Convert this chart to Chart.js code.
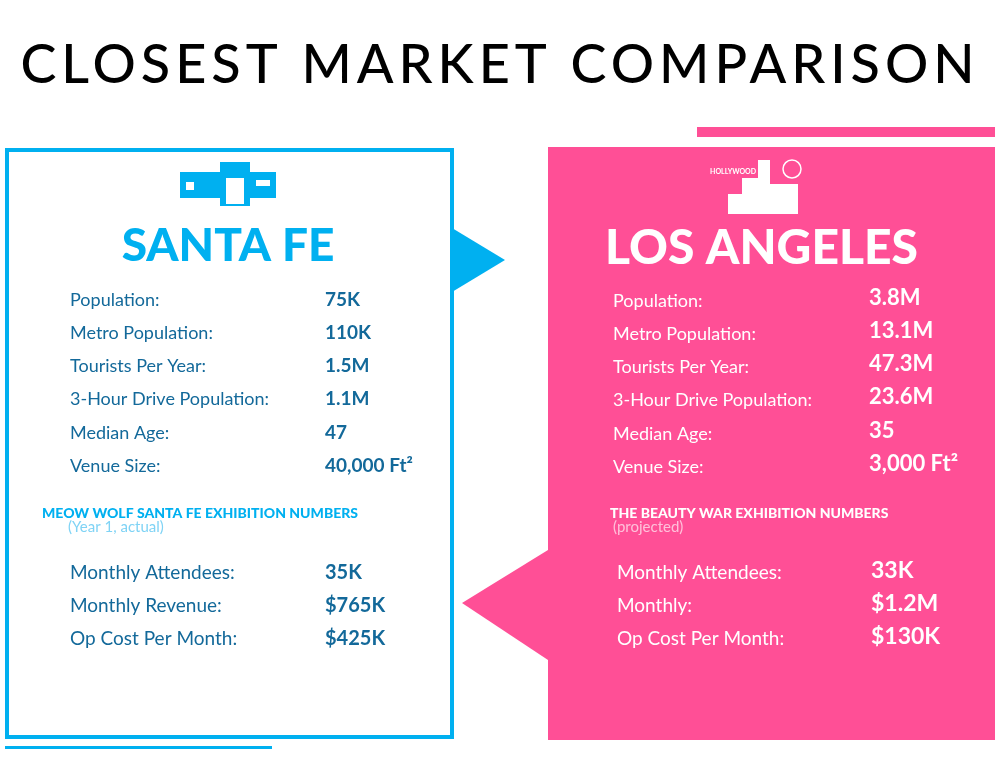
<!DOCTYPE html>
<html><head><meta charset="utf-8">
<script src="https://cdn.jsdelivr.net/npm/chart.js@4"></script>
<style>html,body{margin:0;padding:0;background:#fff;overflow:hidden}#c{display:block}</style>
</head><body>
<div style="width:1000px;height:763px"><canvas id="c"></canvas></div>
<script>
const title = "CLOSEST MARKET COMPARISON";
const sfName = "SANTA FE";
const laName = "LOS ANGELES";
const statLabels = ["Population:", "Metro Population:", "Tourists Per Year:", "3-Hour Drive Population:", "Median Age:", "Venue Size:"];
const sfStats = ["75K", "110K", "1.5M", "1.1M", "47", "40,000 Ft²"];
const laStats = ["3.8M", "13.1M", "47.3M", "23.6M", "35", "3,000 Ft²"];
const sfHeading = "MEOW WOLF SANTA FE EXHIBITION NUMBERS";
const sfSub = "(Year 1, actual)";
const laHeading = "THE BEAUTY WAR EXHIBITION NUMBERS";
const laSub = "(projected)";
const sfExLabels = ["Monthly Attendees:", "Monthly Revenue:", "Op Cost Per Month:"];
const sfExValues = ["35K", "$765K", "$425K"];
const laExLabels = ["Monthly Attendees:", "Monthly:", "Op Cost Per Month:"];
const laExValues = ["33K", "$1.2M", "$130K"];

const BLUE = "#00b0f0", DARK = "#13699a", PINK = "#ff4f96";
const F = "Lato, 'Open Sans', sans-serif";

const infographic = {
  id: "infographic",
  afterDraw(chart) {
    const ctx = chart.ctx;
    ctx.save();
    ctx.textBaseline = "middle";
    // title
    ctx.fillStyle = "#000";
    ctx.font = "500 54px " + F;
    ctx.letterSpacing = "5px";
    ctx.textAlign = "center";
    ctx.fillText(title, 500, 66);
    ctx.letterSpacing = "0px";
    // pink panel & bar
    ctx.fillStyle = PINK;
    ctx.fillRect(697, 127, 298, 10);
    ctx.fillRect(548, 147, 447, 593);
    ctx.beginPath(); ctx.moveTo(548, 550); ctx.lineTo(462, 603); ctx.lineTo(548, 660); ctx.fill();
    // blue panel
    ctx.strokeStyle = BLUE; ctx.lineWidth = 4;
    ctx.strokeRect(7, 150, 445, 587);
    ctx.fillStyle = BLUE;
    ctx.beginPath(); ctx.moveTo(452, 228); ctx.lineTo(505, 260); ctx.lineTo(452, 292); ctx.fill();
    ctx.fillRect(5, 746, 267, 3);
    // simple icons
    ctx.fillStyle = BLUE;
    ctx.fillRect(180, 172, 40, 26); ctx.fillRect(220, 162, 30, 44); ctx.fillRect(250, 172, 26, 26);
    ctx.fillStyle = "#fff";
    ctx.fillRect(226, 178, 18, 26); ctx.fillRect(186, 182, 8, 8); ctx.fillRect(256, 180, 14, 6);
    ctx.fillStyle = "#fff";
    ctx.fillRect(742, 178, 16, 36); ctx.fillRect(758, 160, 12, 54); ctx.fillRect(770, 184, 28, 30);
    ctx.fillRect(728, 194, 14, 20);
    ctx.strokeStyle = "#fff"; ctx.lineWidth = 1.5;
    ctx.beginPath(); ctx.arc(792, 169, 9, 0, Math.PI * 2); ctx.stroke();
    ctx.font = "bold 7px " + F; ctx.textAlign = "left"; ctx.fillText("HOLLYWOOD", 710, 172);
    // names
    ctx.textAlign = "center"; ctx.fillStyle = BLUE;
    ctx.font = "900 46px " + F; ctx.fillText(sfName, 228, 246);
    ctx.textAlign = "left"; ctx.fillStyle = "#fff";
    ctx.font = "900 48px " + F; ctx.fillText(laName, 605, 249);
    // stats
    const rows = [300, 333, 366, 399, 433, 466];
    statLabels.forEach((l, i) => {
      ctx.font = "18px " + F; ctx.fillStyle = DARK; ctx.fillText(l, 70, rows[i]);
      ctx.font = "bold 19px " + F; ctx.fillText(sfStats[i], 325, rows[i]);
      ctx.font = "18px " + F; ctx.fillStyle = "#fff"; ctx.fillText(l, 613, rows[i] + 1);
      ctx.font = "bold 22px " + F; ctx.fillText(laStats[i], 869, rows[i] - 2);
    });
    // headings
    ctx.font = "900 14px " + F; ctx.fillStyle = BLUE; ctx.fillText(sfHeading, 42, 513);
    ctx.font = "15px " + F; ctx.fillStyle = "#7fd3f5"; ctx.fillText(sfSub, 68, 527);
    ctx.font = "900 14px " + F; ctx.fillStyle = "#fff"; ctx.fillText(laHeading, 610, 513);
    ctx.font = "15px " + F; ctx.fillStyle = "#ffc0da"; ctx.fillText(laSub, 613, 527);
    const r2 = [573, 606, 639];
    sfExLabels.forEach((l, i) => {
      ctx.font = "19px " + F; ctx.fillStyle = DARK; ctx.fillText(l, 70, r2[i]);
      ctx.font = "bold 20px " + F; ctx.fillText(sfExValues[i], 325, r2[i]);
    });
    laExLabels.forEach((l, i) => {
      ctx.font = "19px " + F; ctx.fillStyle = "#fff"; ctx.fillText(l, 617, r2[i]);
      ctx.font = "bold 23px " + F; ctx.fillText(laExValues[i], 871, r2[i] - 2);
    });
    ctx.restore();
  }
};

new Chart(document.getElementById("c"), {
  type: "scatter",
  data: { datasets: [{ data: [] }] },
  options: {
    responsive: true, maintainAspectRatio: false, animation: false,
    plugins: { legend: { display: false }, tooltip: { enabled: false } },
    scales: { x: { display: false }, y: { display: false } }
  },
  plugins: [infographic]
});
</script>
</body></html>
